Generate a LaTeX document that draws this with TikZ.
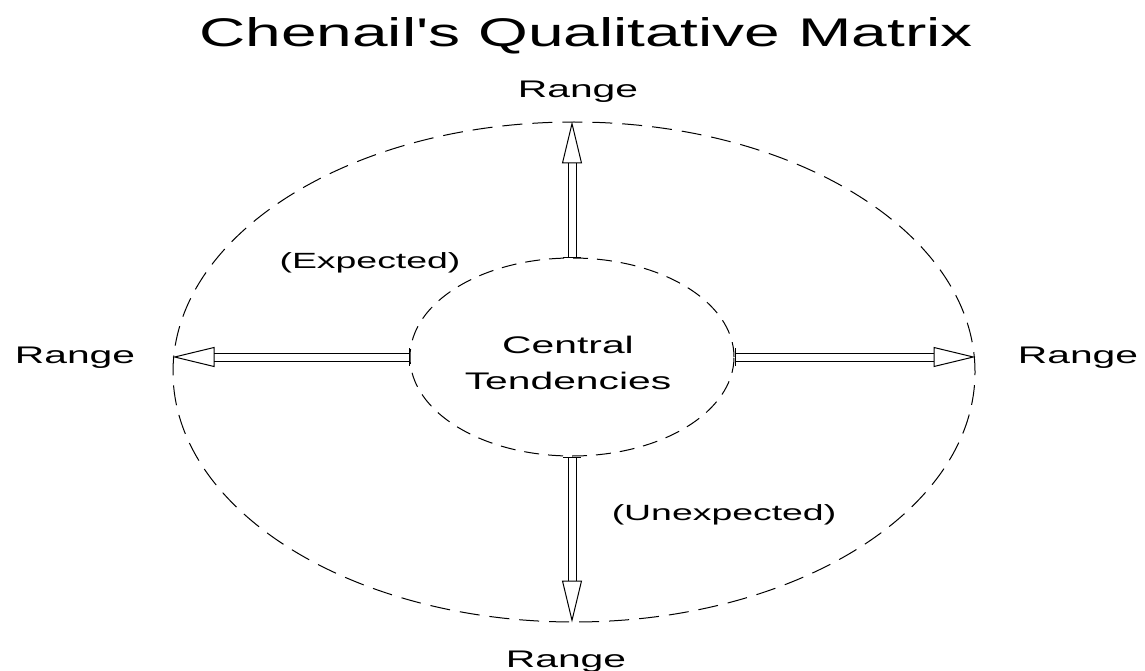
\documentclass[tikz,border=0pt]{standalone}
\usepackage{fontspec}
\setmainfont{Liberation Sans}
\usepackage{tikz}
\usetikzlibrary{arrows.meta, positioning, shapes.geometric}

\begin{document}
\begin{tikzpicture}[
  x=1pt, y=-1pt,
  ring/.style={
    ellipse, draw, line width=1pt, inner sep=0pt},
  lbl/.style={font=\fontsize{24}{36}\selectfont, xscale=1.7, anchor=base},
  heading/.style={font=\fontsize{40}{48}\selectfont, xscale=1.6, anchor=base},
  span/.style={draw, line width=1pt, double, double distance=7pt,
    {Bar[width=18pt]}-{Triangle[open, length=42pt, width=20pt]}},
]
  \useasboundingbox (0,0) rectangle (1145,671);

  \node[heading] (title) at (586,47) {Chenail\textquotesingle s Qualitative Matrix};

  \node[ring, dash pattern=on 20pt off 10pt,
    minimum width=802pt, minimum height=500pt] (outer) at (574,372) {};
  \node[ring, dash pattern=on 15pt off 9pt,
    minimum width=324pt, minimum height=198pt] (inner) at (572,357) {};
  \node[lbl, align=center, anchor=center] (centre) at (568,363) {Central\\Tendencies};

  % Range arrows
  \draw[span] (inner.north) -- (inner.north |- outer.north);
  \draw[span] (inner.south) -- (inner.south |- outer.south);
  \draw[span] (inner.west) -- (inner.west -| outer.west);
  \draw[span] (inner.east) -- (inner.east -| outer.east);

  % Labels
  \node[lbl] (rtop) at (578,98) {Range};
  \node[lbl] (rbot) at (566,667) {Range};
  \node[lbl] (rleft) at (75,363) {Range};
  \node[lbl] (rright) at (1078,363) {Range};
  \node[lbl, font=\fontsize{22}{26}\selectfont] (expd) at (370,268) {(Expected)};
  \node[lbl, font=\fontsize{22}{26}\selectfont] (unexpd) at (724,520) {(Unexpected)};
\end{tikzpicture}
\end{document}
